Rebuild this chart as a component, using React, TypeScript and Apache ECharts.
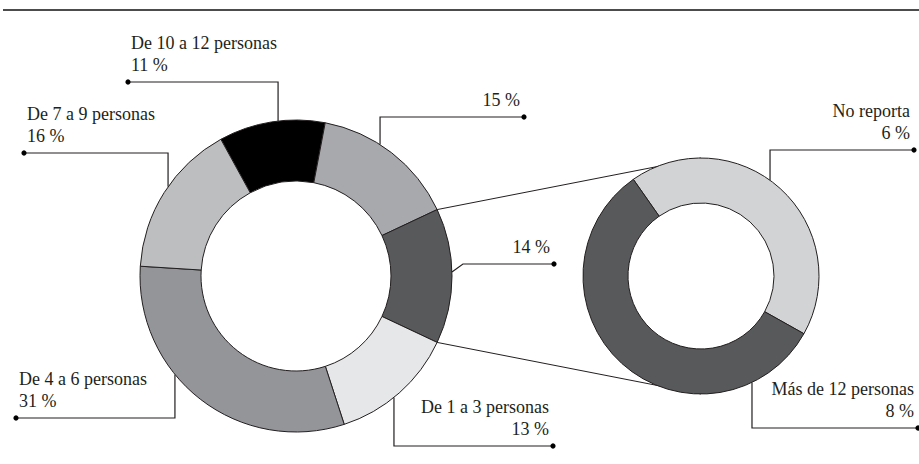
import React, { useEffect, useRef } from "react";
import * as echarts from "echarts";

// ---- data ----
const leftNames = ["De 10 a 12 personas", "", "", "De 1 a 3 personas", "De 4 a 6 personas", "De 7 a 9 personas"];
const leftValues = [11, 15, 14, 13, 31, 16];
const expandIndex = 2; // slice broken out into the right donut
const rightNames = ["No reporta", "Más de 12 personas"];
const rightValues = [6, 8];

// ---- styles / layout ----
const leftColors = ["#000000", "#a7a9ac", "#58595b", "#e6e7e8", "#939598", "#bcbec0"];
const rightColors = ["#d1d3d4", "#58595b"];
const INK = "#231f20";
const FONT = "'Liberation Serif', 'Times New Roman', serif";

const L = { cx: 296, cy: 276, r0: 95, r: 156 };
const R = { cx: 701, cy: 276, r0: 73, r: 118 };
const rightStart = 125;

type Lay = { angle: number; dx: number; lineY: number; endX: number; align: "left" | "right" };
const leftLay: Lay[] = [
  { angle: -6.6, dx: 0, lineY: 82, endX: 128, align: "left" },
  { angle: 32.6, dx: 0, lineY: 117, endX: 524, align: "right" },
  { angle: 88.5, dx: 11, lineY: 264, endX: 554, align: "right" },
  { angle: 141.1, dx: 0, lineY: 446, endX: 553, align: "right" },
  { angle: 230.9, dx: 0, lineY: 418, endX: 16, align: "left" },
  { angle: 304.9, dx: 0, lineY: 153, endX: 24, align: "left" },
];
const rightLay: Lay[] = [
  { angle: 35.8, dx: 0, lineY: 150, endX: 914, align: "right" },
  { angle: 154.4, dx: 0, lineY: 428, endX: 918, align: "right" },
];

function anchor(g: typeof L, angleCW: number) {
  const a = (angleCW * Math.PI) / 180;
  return [g.cx + g.r * Math.sin(a), g.cy - g.r * Math.cos(a)];
}

function makeLayout(g: typeof L, lays: Lay[]) {
  return (params: any) => {
    const lay = lays[params.dataIndex];
    const a = anchor(g, lay.angle);
    const elbow = [a[0] + lay.dx, lay.lineY];
    const end = [lay.endX, lay.lineY];
    return {
      x: lay.align === "left" ? lay.endX + 3 : lay.endX - 4,
      y: lay.lineY - 6,
      align: lay.align,
      verticalAlign: "bottom",
      labelLinePoints: [a, elbow, end],
    };
  };
}

const fmt = (p: any) => (p.name ? `${p.name}\n${p.value} %` : `${p.value} %`);

export default function App() {
  const ref = useRef<HTMLDivElement>(null);
  useEffect(() => {
    if (!ref.current) return;
    const chart = echarts.init(ref.current, null, { renderer: "svg" });
    const total = leftValues.reduce((s, v) => s + v, 0);
    const before = leftValues.slice(0, expandIndex).reduce((s, v) => s + v, 0);
    const leftStart = ((before + leftValues[expandIndex] / 2) / total) * 360;
    // boundaries of the expanded slice (ECharts angles, ccw from 3 o'clock)
    const aTop = ((leftStart - (before / total) * 360) * Math.PI) / 180;
    const aBot = ((leftStart - ((before + leftValues[expandIndex]) / total) * 360) * Math.PI) / 180;
    const pTop = [L.cx + L.r * Math.cos(aTop), L.cy - L.r * Math.sin(aTop)];
    const pBot = [L.cx + L.r * Math.cos(aBot), L.cy - L.r * Math.sin(aBot)];

    const dots = [...leftLay, ...rightLay].map((l) => ({
      type: "circle",
      shape: { cx: l.endX, cy: l.lineY, r: 2.6 },
      style: { fill: "#000" },
      z: 10,
    }));

    const labelBase = {
      show: true,
      position: "outside",
      formatter: fmt,
      color: INK,
      fontFamily: FONT,
      fontSize: 18,
      lineHeight: 22,
    };
    const labelLine = { show: true, length: 10, length2: 10, lineStyle: { color: INK, width: 1.2 } };

    chart.setOption({
      animation: false,
      backgroundColor: "#ffffff",
      graphic: [
        { type: "line", shape: { x1: 3, y1: 10, x2: 919, y2: 10 }, style: { stroke: "#111", lineWidth: 1.4 } },
        { type: "line", shape: { x1: pTop[0], y1: pTop[1], x2: R.cx, y2: R.cy - R.r }, style: { stroke: INK, lineWidth: 1 } },
        { type: "line", shape: { x1: pBot[0], y1: pBot[1], x2: R.cx, y2: R.cy + R.r }, style: { stroke: INK, lineWidth: 1 } },
        ...dots,
      ],
      series: [
        {
          type: "pie",
          center: [L.cx, L.cy],
          radius: [L.r0, L.r],
          startAngle: leftStart,
          clockwise: true,
          avoidLabelOverlap: false,
          itemStyle: { borderColor: INK, borderWidth: 1 },
          emphasis: { disabled: true },
          label: labelBase,
          labelLine,
          labelLayout: makeLayout(L, leftLay),
          data: leftValues.map((v, i) => ({ name: leftNames[i], value: v, itemStyle: { color: leftColors[i] } })),
        },
        {
          type: "pie",
          center: [R.cx, R.cy],
          radius: [R.r0, R.r],
          startAngle: rightStart,
          clockwise: true,
          avoidLabelOverlap: false,
          itemStyle: { borderColor: INK, borderWidth: 1 },
          emphasis: { disabled: true },
          label: labelBase,
          labelLine,
          labelLayout: makeLayout(R, rightLay),
          data: rightValues.map((v, i) => ({ name: rightNames[i], value: v, itemStyle: { color: rightColors[i] } })),
        },
      ],
    });
    return () => chart.dispose();
  }, []);
  return <div ref={ref} style={{ position: "fixed", left: 0, top: 0, width: 919, height: 464 }} />;
}
